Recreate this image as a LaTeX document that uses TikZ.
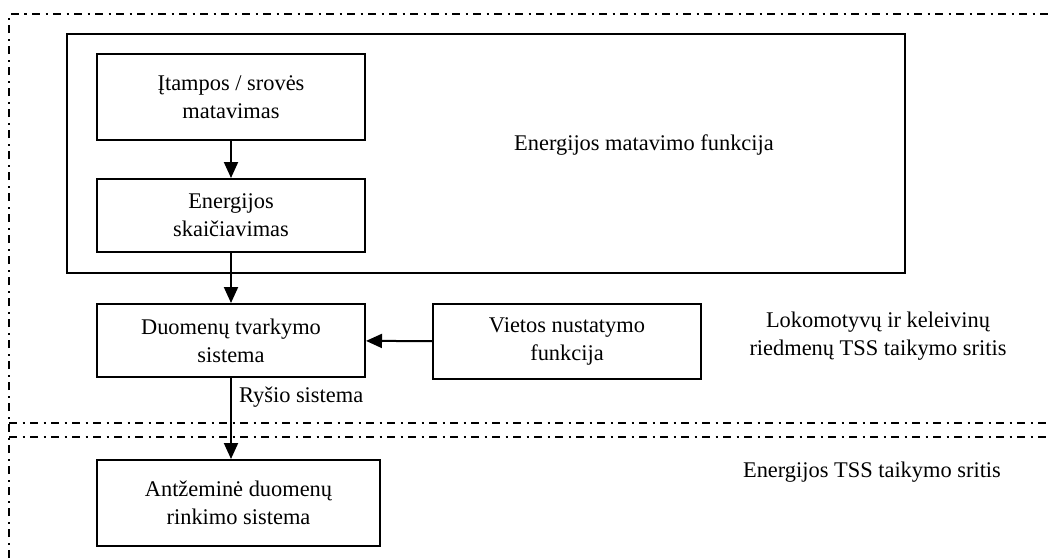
\documentclass[tikz,border=0pt]{standalone}
\usepackage{fontspec}
\setmainfont{Liberation Serif}
\usetikzlibrary{arrows.meta,positioning}
\tikzset{arr/.style={line width=1pt, -{Triangle[length=8pt,width=7pt]}},
  box/.style={draw, line width=1pt, align=center, inner sep=2pt},
  zone/.style={line width=0.8pt, dash pattern=on 4pt off 2.75pt on 1pt off 2.75pt}}

\begin{document}
\begin{tikzpicture}[x=0.5pt, y=-0.5pt, font=\fontsize{11.2}{14}\selectfont]
  \useasboundingbox (0,0) rectangle (1049,558);
  % application areas
  \draw[zone] (9,558) -- (9,14) -- (1049,14);
  \draw[zone] (9,423) -- (1049,423);
  \draw[zone] (9,437) -- (1049,437);
  % energy measuring function
  \node[box, minimum width=419pt, minimum height=119.5pt] (emf) at (486,153.5) {};
  \node (emft) at (644,145) {Energijos matavimo funkcija};
  \node[box, minimum width=134pt, minimum height=43pt] (meas) at (231,97) {Įtampos / srovės\\matavimas};
  \node[box, minimum width=134pt, minimum height=36.5pt] (calc) at (231,215.5) {Energijos\\skaičiavimas};
  % on board
  \node[box, minimum width=134pt, minimum height=36.5pt] (dhs) at (231,340.5) {Duomenų tvarkymo\\sistema};
  \node[box, minimum width=134pt, minimum height=37.5pt] (loc) at (567,341.5) {Vietos nustatymo\\funkcija};
  \node[align=center] (tss1) at (878,336) {Lokomotyvų ir keleivinų\\riedmenų TSS taikymo sritis};
  % ground
  \node[box, minimum width=141.5pt, minimum height=43pt] (dcs) at (238.5,503) {Antžeminė duomenų\\rinkimo sistema};
  \node (tss2) at (872,472) {Energijos TSS taikymo sritis};
  % links
  \draw[arr] (meas) -- (calc);
  \draw[arr] (calc) -- (dhs);
  \draw[arr] (loc) -- (dhs);
  \draw[arr] (dhs.south) -- (dhs.south |- dcs.north);
  \node[anchor=west] (com) at (232,397) {Ryšio sistema};
\end{tikzpicture}
\end{document}
